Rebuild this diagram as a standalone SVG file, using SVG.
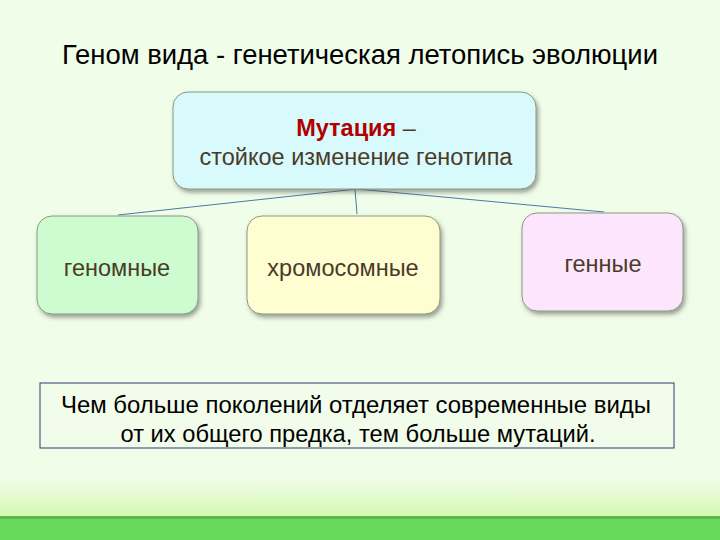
<svg xmlns="http://www.w3.org/2000/svg" width="720" height="540" viewBox="0 0 720 540">
<defs>
<linearGradient id="bottom" x1="0" y1="0" x2="0" y2="1">
<stop offset="0" stop-color="#f0fde8"/>
<stop offset="1" stop-color="#d6f8b4"/>
</linearGradient>
<filter id="sh" x="-10%" y="-10%" width="130%" height="130%">
<feDropShadow dx="2" dy="3" stdDeviation="2" flood-color="#404040" flood-opacity="0.5"/>
</filter>
<style>
.box{stroke:#8a9a80;stroke-width:1;filter:url(#sh)}
.t{font-family:"Liberation Sans",Arial,sans-serif;fill:#4a3a28;text-anchor:middle;font-size:23.5px}
.conn{stroke:#4a7aaa;stroke-width:1;fill:none}
.n{font-family:"Liberation Sans",Arial,sans-serif;font-size:23.5px;text-anchor:middle;fill:#000}
</style>
</defs>
<rect x="0" y="0" width="720" height="540" fill="#f0fde8"/>
<rect x="0" y="478" width="720" height="38" fill="url(#bottom)"/>
<rect x="0" y="516" width="720" height="24" fill="#66d85a"/>
<rect x="0" y="516" width="720" height="3" fill="#5cb84e"/>
<text x="360" y="64" font-family="'Liberation Sans',Arial,sans-serif" font-size="28.5" text-anchor="middle" fill="#000" textLength="596" lengthAdjust="spacingAndGlyphs">Геном вида - генетическая летопись эволюции</text>
<g id="connectors">
<line class="conn" x1="357" y1="189" x2="118" y2="215"/>
<line class="conn" x1="355" y1="189" x2="357" y2="214"/>
<line class="conn" x1="357" y1="189" x2="604" y2="212"/>
</g>
<g id="mutation">
<rect class="box" x="173" y="92" width="363" height="97" rx="15" fill="#d8fafc"/>
<text class="t" x="356" y="136"><tspan font-weight="bold" fill="#b00000">Мутация</tspan> –</text>
<text class="t" x="356" y="165">стойкое изменение генотипа</text>
</g>
<g id="genomic">
<rect class="box" x="37" y="216" width="161" height="98" rx="15" fill="#ccfcd0"/>
<text class="t" x="117" y="276">геномные</text>
</g>
<g id="chromosomal">
<rect class="box" x="247" y="216" width="193" height="98" rx="15" fill="#fefed2"/>
<text class="t" x="343" y="276">хромосомные</text>
</g>
<g id="gene">
<rect class="box" x="522" y="213" width="161" height="98" rx="15" fill="#fde6fd"/>
<text class="t" x="603" y="272">генные</text>
</g>
<g id="note">
<rect x="40" y="383" width="634" height="65" fill="#f2fcea" stroke="#2a3a70" stroke-width="1"/>
<text class="n" x="356" y="413" textLength="590" lengthAdjust="spacingAndGlyphs">Чем больше поколений отделяет современные виды</text>
<text class="n" x="358" y="442" textLength="475" lengthAdjust="spacingAndGlyphs">от их общего предка, тем больше мутаций.</text>
</g>
</svg>
